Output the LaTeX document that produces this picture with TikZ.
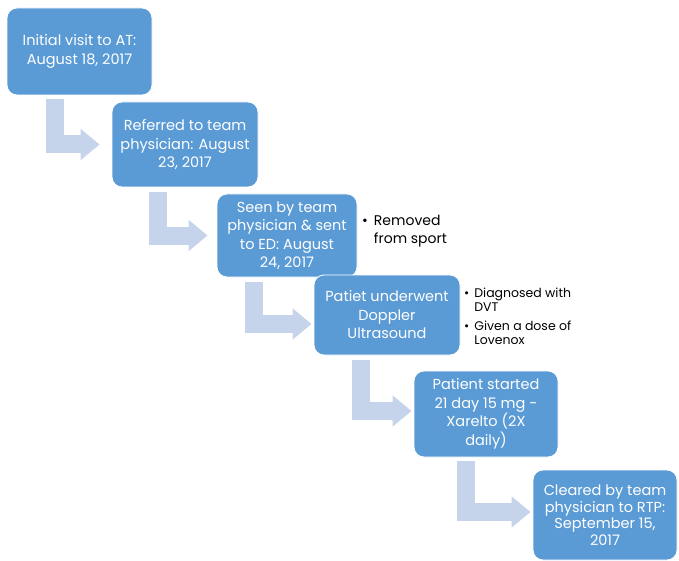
\documentclass[tikz,border=0pt]{standalone}
\usepackage{fontspec}
\setmainfont{Poppins}
\usetikzlibrary{arrows.meta,calc}
\definecolor{stepblue}{HTML}{5B9BD5}
\definecolor{steplight}{HTML}{C5D4EA}
\newcommand{\boxcol}{stepblue}
\newcommand{\arrcol}{steplight}

\begin{document}
\begin{tikzpicture}[x=1pt, y=-1pt,
    stepbox/.style={fill=\boxcol, draw=white, line width=0.8pt, rounded corners=10pt,
      text=white, align=center, inner sep=2pt, font=\fontsize{14.5}{18.5}\selectfont},
    bent/.style={draw=\arrcol, line width=18pt, line join=miter,
      -{Triangle[length=19pt, width=30pt]}},
    notes/.style={anchor=north west, inner sep=0pt, align=left}]

    \useasboundingbox (0, 0) rectangle (679, 561);
    \clip (0, 0) rectangle (679, 561);

    \node[stepbox, minimum width=145pt, minimum height=87pt] (b1) at (79.5, 51.5)
      {Initial visit to AT:\\August 18, 2017};
    \node[stepbox, minimum width=146pt, minimum height=85pt] (b2) at (185, 144.5)
      {Referred to team\\physician: August\\23, 2017};
    \node[stepbox, minimum width=140pt, minimum height=83pt] (b3) at (287, 235.5)
      {Seen by team\\physician \& sent\\to ED: August\\24, 2017};
    \node[stepbox, minimum width=146pt, minimum height=80pt] (b4) at (387, 315)
      {Patiet underwent\\Doppler\\Ultrasound};
    \node[stepbox, minimum width=144pt, minimum height=86pt] (b5) at (486, 414)
      {Patient started\\21 day 15 mg -\\Xarelto (2X\\daily)};
    \node[stepbox, minimum width=144pt, minimum height=90pt,
      font=\fontsize{14.5}{16.5}\selectfont] (b6) at (605, 515)
      {Cleared by team\\physician to RTP:\\September 15,\\2017};

    \node[notes, font=\fontsize{14}{18}\selectfont] (n3) at (362, 213)
      {\begin{tabular}{@{}l@{\hspace{6pt}}l@{}}
        • & Removed\\ & from sport
      \end{tabular}};
    \node[notes, font=\fontsize{12.5}{14.5}\selectfont] (n4) at (464, 287)
      {\begin{tabular}{@{}l@{\hspace{5pt}}l@{}}
        • & Diagnosed with\\ & DVT\\[4pt]
        • & Given a dose of\\ & Lovenox
      \end{tabular}};

    \draw[bent] ($(b1.south west)+(48, 4)$) |- ([xshift=-12pt]b2.west);
    \draw[bent] ($(b2.south west)+(46, 5)$) |- ([xshift=-9pt]b3.west);
    \draw[bent] ($(b3.south west)+(37, 5)$) |- ([xshift=-2pt, yshift=-9pt]b4.west);
    \draw[bent] ($(b4.south west)+(47, 5)$) |- ([xshift=-2pt, yshift=3pt]b5.west);
    \draw[bent] ($(b5.south west)+(52, 4)$) |- ([xshift=-2pt, yshift=3pt]b6.west);

  \end{tikzpicture}
\end{document}
